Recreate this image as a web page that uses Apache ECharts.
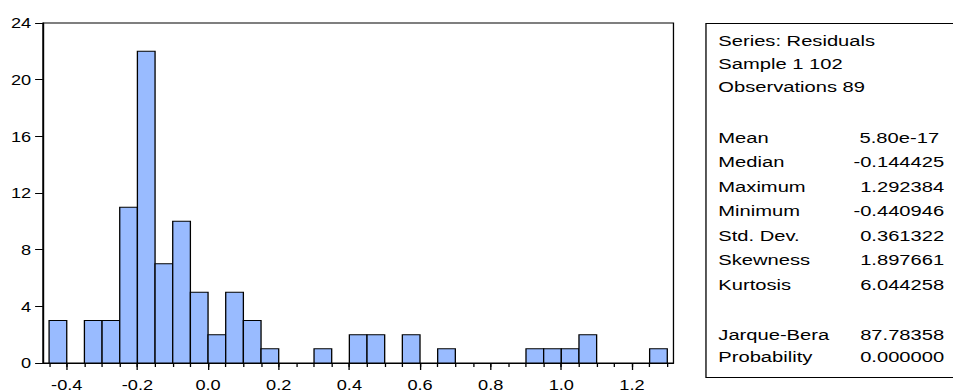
<!DOCTYPE html>
<html>
<head>
<meta charset="utf-8">
<script src="https://cdn.jsdelivr.net/npm/echarts@6/dist/echarts.min.js"></script>
<style>
  html, body { margin: 0; padding: 0; background: #fff; overflow: hidden; }
  #chart { width: 733px; height: 392px; transform: scaleX(1.30014); transform-origin: 0 0; }
</style>
</head>
<body>
<div id="chart"></div>
<script>
// ---- data ----
const binEdges = [-0.45,-0.40,-0.35,-0.30,-0.25,-0.20,-0.15,-0.10,-0.05,0.00,0.05,0.10,0.15,0.20,0.25,0.30,0.35,0.40,0.45,0.50,0.55,0.60,0.65,0.70,0.75,0.80,0.85,0.90,0.95,1.00,1.05,1.10,1.15,1.20,1.25,1.30];
const counts   = [3,0,3,3,11,22,7,10,5,2,5,3,1,0,0,1,0,2,2,0,2,0,1,0,0,0,0,1,1,1,2,0,0,0,1];
const xTickLabels = [-0.4,-0.2,0.0,0.2,0.4,0.6,0.8,1.0,1.2];
const headerLines = ['Series: Residuals','Sample 1 102','Observations 89'];
const statLabels = ['Mean','Median','Maximum','Minimum','Std. Dev.','Skewness','Kurtosis'];
const statValues = ['5.80e-17','-0.144425','1.292384','-0.440946','0.361322','1.897661','6.044258'];
const testLabels = ['Jarque-Bera','Probability'];
const testValues = ['87.78358','0.000000'];

// ---- build ----
const barData = [];
for (let i = 0; i < counts.length; i++) {
  if (counts[i] > 0) barData.push([binEdges[i], binEdges[i+1], counts[i]]);
}
const FONT = 'Arial, "Liberation Sans", sans-serif';
const X_MIN = -0.4675, X_MAX = 1.3175;

const graphics = [];
graphics.push({ type: 'rect', shape: { x: 543, y: 23.5, width: 220, height: 354 },
  style: { fill: 'none', stroke: '#000', lineWidth: 1 }, silent: true });
const txtLeft = 552.5, valRight = 726.2;
function addText(str, x, y, align) {
  graphics.push({ type: 'text', x: x, y: y, silent: true,
    style: { text: str, font: '15.5px ' + FONT, fill: '#000', textAlign: align, textVerticalAlign: 'middle' } });
}
const headerY = [41, 63.5, 86.5];
headerLines.forEach((t, i) => addText(t, txtLeft, headerY[i], 'left'));
const statY = [137.5, 162, 186.5, 211, 235.5, 260, 284.5];
statLabels.forEach((t, i) => {
  addText(t, txtLeft, statY[i], 'left');
  addText(statValues[i], i === 0 ? 722.3 : valRight, statY[i], 'right');
});
const testY = [334.5, 357];
testLabels.forEach((t, i) => {
  addText(t, txtLeft, testY[i], 'left');
  addText(testValues[i], valRight, testY[i], 'right');
});

const minorTicks = binEdges.slice();

const chart = echarts.init(document.getElementById('chart'), null, { renderer: 'svg' });
chart.setOption({
  animation: false,
  backgroundColor: '#fff',
  grid: { left: 33, top: 23, width: 485, height: 345, show: true, borderColor: '#000', borderWidth: 1, backgroundColor: '#fff' },
  xAxis: [{
    type: 'value', min: X_MIN, max: X_MAX, position: 'bottom',
    axisLine: { show: true, onZero: false, lineStyle: { color: '#000', width: 1 } },
    axisTick: { show: true, inside: false, length: 7, customValues: xTickLabels, lineStyle: { color: '#000' } },
    axisLabel: { show: true, customValues: xTickLabels, margin: 15, color: '#000', fontSize: 14, fontFamily: FONT,
      formatter: v => Number(v).toFixed(1) },
    splitLine: { show: false }
  }, {
    type: 'value', min: X_MIN, max: X_MAX, position: 'bottom', gridIndex: 0,
    axisLine: { show: false, onZero: false },
    axisTick: { show: true, inside: false, length: 4, customValues: minorTicks, lineStyle: { color: '#000' } },
    axisLabel: { show: false },
    splitLine: { show: false }
  }],
  yAxis: {
    type: 'value', min: 0, max: 24, interval: 4,
    axisLine: { show: true, onZero: false, lineStyle: { color: '#000', width: 1 } },
    axisTick: { show: true, inside: false, length: 6, lineStyle: { color: '#000' } },
    axisLabel: { color: '#000', fontSize: 14, fontFamily: FONT, margin: 9 },
    splitLine: { show: false }
  },
  series: [{
    type: 'custom',
    xAxisIndex: 0,
    data: barData,
    encode: { x: [0, 1], y: 2 },
    renderItem: function (params, api) {
      const p0 = api.coord([api.value(0), 0]);
      const p1 = api.coord([api.value(1), api.value(2)]);
      return { type: 'rect',
        shape: { x: p0[0], y: p1[1], width: p1[0] - p0[0], height: p0[1] - p1[1] },
        style: { fill: '#99bbff', stroke: '#000', lineWidth: 1 } };
    }
  }],
  graphic: graphics
});
</script>
</body>
</html>
